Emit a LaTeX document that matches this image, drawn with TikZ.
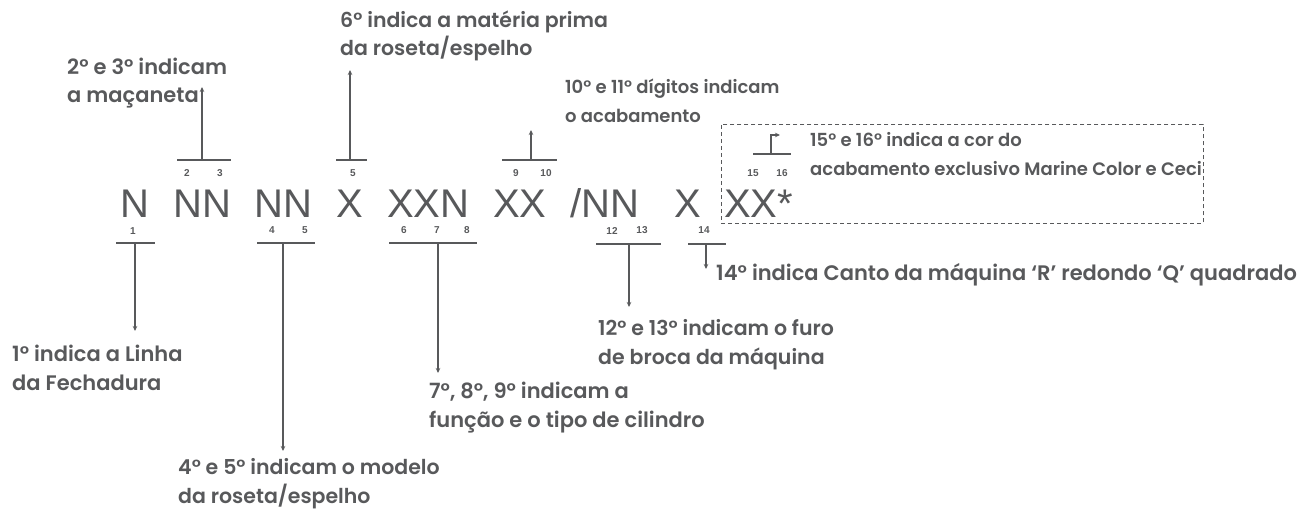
\documentclass[tikz,border=0pt]{standalone}
\usepackage{fontspec}
\setmainfont{Poppins}[BoldFont={Poppins SemiBold}]
\setsansfont{Liberation Sans}
\usetikzlibrary{arrows.meta}
\definecolor{ink}{RGB}{88,89,91}
\begin{document}
\begin{tikzpicture}[x=1pt,y=-1pt,
  code/.style={font=\sffamily\fontsize{40}{40}\selectfont, text=ink, inner sep=0pt, anchor=base west},
  idx/.style={font=\sffamily\bfseries\fontsize{10}{10}\selectfont, text=ink, inner sep=0pt},
  bar/.style={draw=ink, line width=1.3pt},
  lead/.style={draw=ink, line width=1.3pt, -{Stealth[length=5pt,width=4.5pt]}},
  lbl/.style={font=\bfseries\fontsize{20.5}{28.5}\selectfont, text=ink, inner sep=0pt, anchor=base west, align=left},
  lblbig/.style={lbl, font=\bfseries\fontsize{21}{28.5}\selectfont},
  lblsmall/.style={lbl, font=\bfseries\fontsize{18}{29}\selectfont},
  frame/.style={draw=ink, line width=0.9pt, dash pattern=on 4pt off 3pt, inner sep=0pt, anchor=north west}
]
\useasboundingbox (0,0) rectangle (1306,510);

% code letters
\node[code] (c1) at (120,217.5) {N};
\node[code] (c2) at (173,217.5) {NN};
\node[code] (c3) at (254,217.5) {NN};
\node[code] (c4) at (336,217.5) {X};
\node[code] (c5) at (387,217.5) {XXN};
\node[code] (c6) at (493,217.5) {XX};
\node[code] (c7) at (570,217.5) {/NN};
\node[code] (c8) at (674,217.5) {X};
\node[code] (c9) at (724,217.5) {XX*};

% dashed frame
\node[frame, minimum width=482pt, minimum height=99pt] (fr) at (721,124) {};

% index numbers
\node[idx] (i1) at (133,231) {1};
\node[idx] (i2) at (187,173) {2};
\node[idx] (i3) at (220,173) {3};
\node[idx] (i4) at (272,230) {4};
\node[idx] (i5) at (305,230) {5};
\node[idx] (i5b) at (353,173) {5};
\node[idx] (i6) at (404,230) {6};
\node[idx] (i7) at (437,230) {7};
\node[idx] (i8) at (467,230) {8};
\node[idx] (i9) at (516,173) {9};
\node[idx] (i10) at (546,173) {10};
\node[idx] (i12) at (612,231) {12};
\node[idx] (i13) at (642,230) {13};
\node[idx] (i14) at (704,230) {14};
\node[idx] (i15) at (753,173) {15};
\node[idx] (i16) at (782,173) {16};

% bars
\coordinate (b1l) at (116,243); \coordinate (b1r) at (155,243); \coordinate (b1m) at (135,243);
\coordinate (b2l) at (177,160); \coordinate (b2r) at (231,160); \coordinate (b2m) at (202,160);
\coordinate (b3l) at (257,243); \coordinate (b3r) at (315,243); \coordinate (b3m) at (283,243);
\coordinate (b4l) at (336,160); \coordinate (b4r) at (367,160); \coordinate (b4m) at (350,160);
\coordinate (b5l) at (389,243); \coordinate (b5r) at (477,243); \coordinate (b5m) at (438,243);
\coordinate (b6l) at (502,160); \coordinate (b6r) at (557,160); \coordinate (b6m) at (531,160);
\coordinate (b7l) at (596,244); \coordinate (b7r) at (661,244); \coordinate (b7m) at (629,244);
\coordinate (b8l) at (688,244); \coordinate (b8r) at (726,244); \coordinate (b8m) at (706,244);
\coordinate (b9l) at (753,154); \coordinate (b9r) at (791,154); \coordinate (b9m) at (771,154);
\foreach \b in {1,...,9} {\draw[bar] (b\b l) -- (b\b r);}

% arrow tips
\coordinate (t1) at (135,331);
\coordinate (t2) at (202,87);
\coordinate (t3) at (283,451);
\coordinate (t4) at (350,70);
\coordinate (t5) at (438,373);
\coordinate (t6) at (531,130);
\coordinate (t7) at (629,307);
\coordinate (t8) at (706,269);
\coordinate (k9) at (771,135);
\coordinate (t9) at (780,135);

\draw[lead] (b1m) -- (t1);
\draw[lead] (b2m) -- (t2);
\draw[lead] (b3m) -- (t3);
\draw[lead] (b4m) -- (t4);
\draw[lead] (b5m) -- (t5);
\draw[lead] (b6m) -- (t6);
\draw[lead] (b7m) -- (t7);
\draw[lead] (b8m) -- (t8);
\draw[lead] (b9m) -- (k9) -- (t9);

% labels (base = baseline of last line)
\node[lblbig] (l1) at (12,390) {1° indica a Linha\\da Fechadura};
\node[lblbig] (l2) at (67,103) {2° e 3° indicam\\a maçaneta};
\node[lbl] (l3) at (340,56) {6° indica a matéria prima\\da roseta/espelho};
\node[lbl] (l4) at (178,503) {4° e 5° indicam o modelo\\da roseta/espelho};
\node[lblbig] (l5) at (429,427) {7°, 8°, 9° indicam a\\função e o tipo de cilindro};
\node[lblsmall] (l6) at (565,123) {10° e 11° dígitos indicam\\o acabamento};
\node[lbl] (l7) at (598,364) {12° e 13° indicam o furo\\de broca da máquina};
\node[lblbig] (l8) at (716,281) {14° indica Canto da máquina ‘R’ redondo ‘Q’ quadrado};
\node[lblsmall] (l9) at (810,176) {15° e 16° indica a cor do\\acabamento exclusivo Marine Color e Ceci};
\end{tikzpicture}
\end{document}
